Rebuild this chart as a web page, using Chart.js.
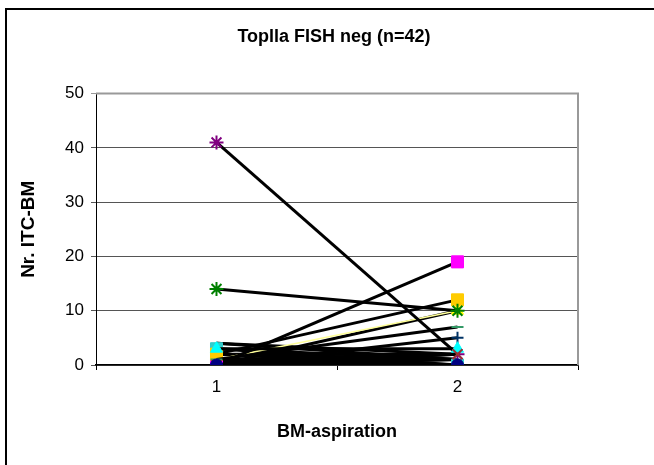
<!DOCTYPE html>
<html>
<head>
<meta charset="utf-8">
<script src="https://cdn.jsdelivr.net/npm/chart.js@4.4.1/dist/chart.umd.min.js"></script>
<style>
  body { margin: 0; background: #fff; }
  #frame { position: absolute; left: 5px; top: 8px; width: 700px; height: 500px; border-left: 2px solid #000; border-top: 2px solid #000; }
  #wrap { position: absolute; left: 0; top: 0; width: 654px; height: 465px; }
</style>
</head>
<body>
<div id="frame"></div>
<div id="wrap"><canvas id="chart" width="654" height="465"></canvas></div>
<script>
// BM-aspiration 1 and 2, one entry per patient (n=42)
const categories = ['1', '2'];
const aspiration1 = [0, 0, 3, 41, 1, 0, 14, 2, 0, 1, 3,
  4, 4, 2, 2, 1, 1, 0, 0, 1, 0, 3, 2, 0,
  0, 0, 0, 0, 0, 0, 0, 0, 0, 1, 0, 0, 0, 0, 0, 0, 1, 0];
const aspiration2 = [0, 2, 3, 2, 7, 5, 10, 12, 19, 10, 0,
  2, 1, 1, 0, 0, 1, 1, 2, 2, 10, 1, 2, 0,
  0, 0, 0, 0, 0, 0, 0, 0, 0, 0, 1, 0, 0, 0, 0, 0, 0, 0];

// marker styles for the highlighted patients (rest: plain black line)
const markerStyles = ['circle', 'crossRot', 'triangle', 'star', 'line', 'cross', 'star', 'rect', 'rect', 'triangle', 'rect'];
const markerColors = ['#000080', '#993333', '#00FFFF', '#800080', '#339966', '#003366', '#008000', '#FFCC00', '#FF00FF', '#FFFF00', '#33CCCC'];
const markerSizes = [6, 7, 7, 7, 6, 6, 7, 8.5, 8.5, 7, 8.5];

const datasets = aspiration1.map((v, i) => {
  const styled = i < markerStyles.length;
  const yellow = markerColors[i] === '#FFFF00';
  const filled = styled && ['circle', 'rect', 'triangle'].includes(markerStyles[i]);
  return {
    label: 'P' + (i + 1),
    data: [v, aspiration2[i]],
    borderColor: yellow ? '#FFFF99' : '#000',
    borderWidth: yellow ? 1.5 : 3,
    pointStyle: styled ? markerStyles[i] : 'circle',
    pointRadius: styled ? markerSizes[i] : 0,
    pointBackgroundColor: styled ? markerColors[i] : '#000',
    pointBorderColor: styled ? markerColors[i] : '#000',
    pointBorderWidth: filled ? 1 : 2,
    tension: 0
  };
});

const plotFrame = {
  id: 'plotFrame',
  beforeDatasetsDraw(chart) {
    const a = chart.chartArea, ctx = chart.ctx;
    ctx.save();
    ctx.strokeStyle = '#999';
    ctx.lineWidth = 2;
    ctx.beginPath();
    ctx.moveTo(a.left, a.top);
    ctx.lineTo(a.right, a.top);
    ctx.lineTo(a.right, a.bottom);
    ctx.stroke();
    ctx.restore();
  }
};

const font = (size, bold) => ({ family: 'Liberation Sans', size: size, weight: bold ? 'bold' : 'normal' });

new Chart(document.getElementById('chart'), {
  type: 'line',
  data: { labels: categories, datasets: datasets },
  plugins: [plotFrame],
  options: {
    responsive: false,
    animation: false,
    layout: { padding: { left: 14, right: 0, top: 0, bottom: 0 } },
    plugins: {
      legend: { display: false },
      tooltip: { enabled: false },
      title: {
        display: true,
        text: 'Toplla FISH neg (n=42)',
        color: '#000',
        font: font(18, true),
        padding: { top: 26, bottom: 46 }
      }
    },
    scales: {
      x: {
        offset: true,
        afterFit: s => { s.height = 100; },
        grid: { offset: true, drawOnChartArea: false, tickLength: 5, color: '#000' },
        border: { color: '#000', width: 1.5 },
        ticks: { color: '#000', padding: 7, font: font(17) },
        title: {
          display: true,
          text: 'BM-aspiration',
          color: '#000',
          font: font(18, true),
          padding: { top: 0, bottom: 22 }
        }
      },
      y: {
        min: 0,
        max: 50,
        afterFit: s => { s.width = 82; },
        grid: {
          tickLength: 5,
          color: c => c.tick && c.tick.value === 50 ? '#999' : '#555'
        },
        border: { color: '#000', width: 1 },
        ticks: { stepSize: 10, color: '#000', padding: 7, font: font(17) },
        title: {
          display: true,
          text: 'Nr. ITC-BM',
          color: '#000',
          font: font(19, true),
          padding: { top: 3, bottom: 0 }
        }
      },
      // empty band to the right of the plot
      side: {
        type: 'linear',
        position: 'right',
        afterFit: s => { s.width = 76; },
        grid: { display: false },
        border: { display: false },
        ticks: { display: false }
      }
    }
  }
});
</script>
</body>
</html>
